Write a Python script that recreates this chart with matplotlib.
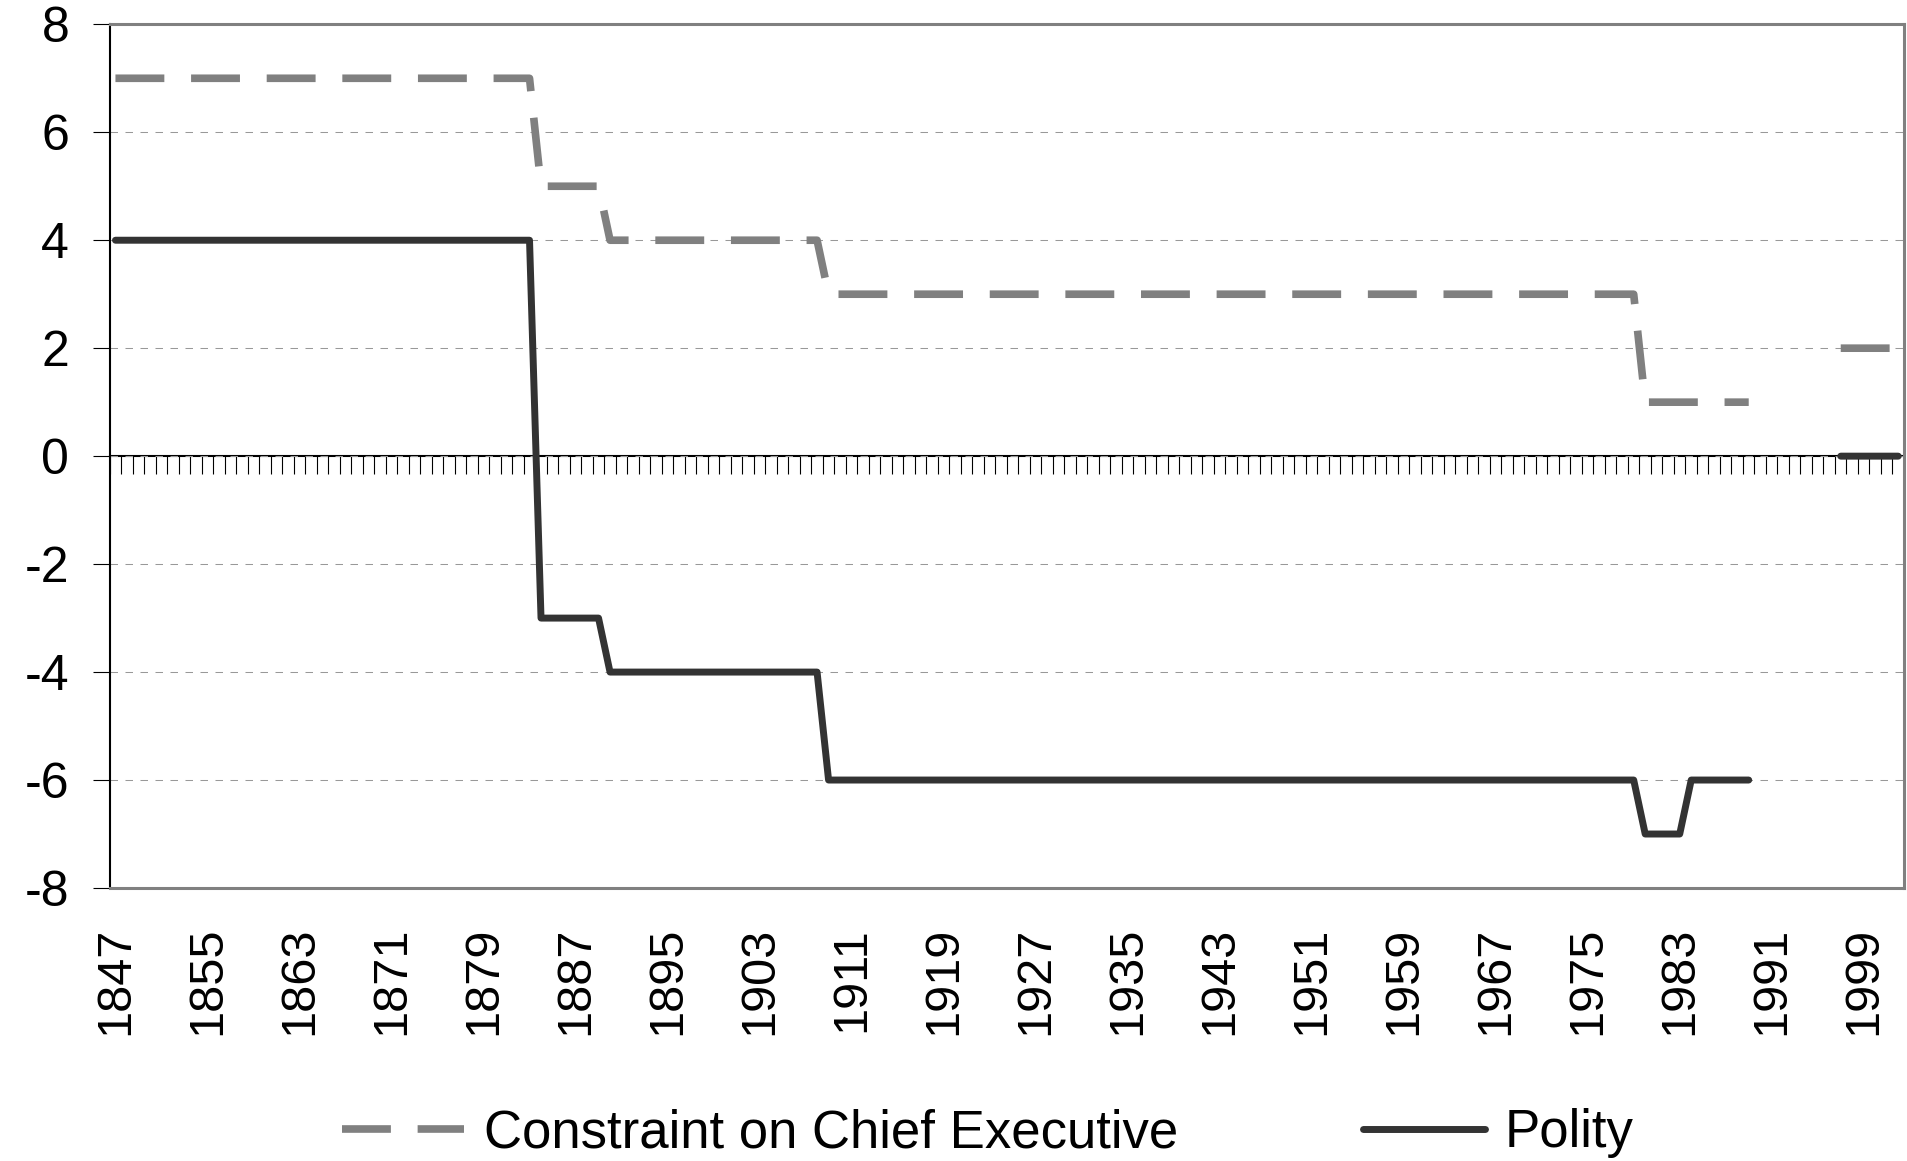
#%%
import numpy as np
from matplotlib import pyplot as plt

plt.rcParams['font.family'] = ['Liberation Sans', 'DejaVu Sans']
plt.rcParams['axes.unicode_minus'] = False

#%%
years = list(range(1847, 2003))

polity = [
  4, 4, 4, 4, 4, 4, 4, 4, 4, 4,            # 1847-1856
  4, 4, 4, 4, 4, 4, 4, 4, 4, 4,            # 1857-1866
  4, 4, 4, 4, 4, 4, 4, 4, 4, 4,            # 1867-1876
  4, 4, 4, 4, 4, 4, 4, -3, -3, -3,         # 1877-1886
  -3, -3, -3, -4, -4, -4, -4, -4, -4, -4,  # 1887-1896
  -4, -4, -4, -4, -4, -4, -4, -4, -4, -4,  # 1897-1906
  -4, -4, -6, -6, -6, -6, -6, -6, -6, -6,  # 1907-1916
  -6, -6, -6, -6, -6, -6, -6, -6, -6, -6,  # 1917-1926
  -6, -6, -6, -6, -6, -6, -6, -6, -6, -6,  # 1927-1936
  -6, -6, -6, -6, -6, -6, -6, -6, -6, -6,  # 1937-1946
  -6, -6, -6, -6, -6, -6, -6, -6, -6, -6,  # 1947-1956
  -6, -6, -6, -6, -6, -6, -6, -6, -6, -6,  # 1957-1966
  -6, -6, -6, -6, -6, -6, -6, -6, -6, -6,  # 1967-1976
  -6, -6, -6, -7, -7, -7, -7, -6, -6, -6,  # 1977-1986
  -6, -6, -6, None, None, None, None, None, None, None,  # 1987-1996
  0, 0, 0, 0, 0, 0,                        # 1997-2002
]

xconst = [
  7, 7, 7, 7, 7, 7, 7, 7, 7, 7,   # 1847-1856
  7, 7, 7, 7, 7, 7, 7, 7, 7, 7,   # 1857-1866
  7, 7, 7, 7, 7, 7, 7, 7, 7, 7,   # 1867-1876
  7, 7, 7, 7, 7, 7, 7, 5, 5, 5,   # 1877-1886
  5, 5, 5, 4, 4, 4, 4, 4, 4, 4,   # 1887-1896
  4, 4, 4, 4, 4, 4, 4, 4, 4, 4,   # 1897-1906
  4, 4, 3, 3, 3, 3, 3, 3, 3, 3,   # 1907-1916
  3, 3, 3, 3, 3, 3, 3, 3, 3, 3,   # 1917-1926
  3, 3, 3, 3, 3, 3, 3, 3, 3, 3,   # 1927-1936
  3, 3, 3, 3, 3, 3, 3, 3, 3, 3,   # 1937-1946
  3, 3, 3, 3, 3, 3, 3, 3, 3, 3,   # 1947-1956
  3, 3, 3, 3, 3, 3, 3, 3, 3, 3,   # 1957-1966
  3, 3, 3, 3, 3, 3, 3, 3, 3, 3,   # 1967-1976
  3, 3, 3, 1, 1, 1, 1, 1, 1, 1,   # 1977-1986
  1, 1, 1, None, None, None, None, None, None, None,  # 1987-1996
  2, 2, 2, 2, 2, 2,               # 1997-2002
]

yticks = [-8, -6, -4, -2, 0, 2, 4, 6, 8]
label_every = 8

#%%
W, H = 1907, 1161
fig = plt.figure(figsize=(W / 100, H / 100), dpi=100)
ax = fig.add_axes([109.7 / W, 1 - 888 / H, (1904 - 109.7) / W, (888 - 24.3) / H])

x = np.arange(len(years))
pol = np.array(polity, dtype=float)
xc = np.array(xconst, dtype=float)

ax.plot(x, xc, color='#808080', lw=5.5, dashes=(6.4, 3.5), dash_capstyle='butt',
        label='Constraint on Chief Executive')
ax.plot(x, pol, color='#333333', lw=5.0, solid_capstyle='round', solid_joinstyle='round',
        label='Polity')

ax.set_xlim(-0.5, len(years) - 0.5)
ax.set_ylim(-8, 8)
ax.set_yticks(yticks)
ax.set_yticklabels([str(v) for v in yticks])
ax.tick_params(axis='y', direction='out', length=12.2, width=0.8, color='black',
               pad=17, labelsize=36)

lab_idx = x[::label_every]
ax.set_xticks(lab_idx)
ax.set_xticklabels([str(years[i]) for i in lab_idx], rotation=90)
ax.tick_params(axis='x', length=0, pad=28, labelsize=35)

ax.set_axisbelow(True)
ax.yaxis.grid(True, color='#999999', lw=0.75, linestyle=(0, (7.2, 7.2)))

for s in ['top', 'right', 'bottom']:
  ax.spines[s].set_color('#808080')
  ax.spines[s].set_linewidth(2.2)
ax.spines['left'].set_color('black')
ax.spines['left'].set_linewidth(1.5)

# category axis crossing at zero with tick marks between years
sec = ax.secondary_xaxis(0.5)
sec.set_xticks(np.arange(len(years) + 1) - 0.5)
sec.tick_params(axis='x', direction='in', length=12.7, width=0.8, color='black',
                labeltop=False, labelbottom=False)
for s in sec.spines.values():
  s.set_color('black')
  s.set_linewidth(1.5)

ax.legend(loc='center', bbox_to_anchor=(988 / W, 1 - 1133 / H), bbox_transform=fig.transFigure,
          ncol=2, frameon=False, fontsize=38, handlelength=2.31, handletextpad=0.38,
          columnspacing=3.5, borderpad=0, borderaxespad=0)

fig.savefig('out.png', dpi=100)
